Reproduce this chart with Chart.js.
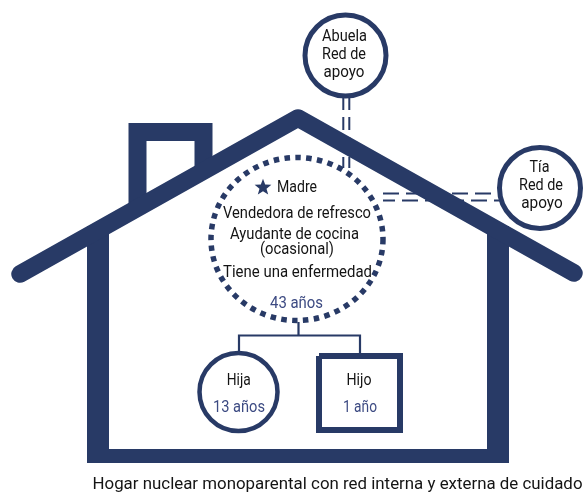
<!DOCTYPE html>
<html><head><meta charset="utf-8">
<script src="https://cdn.jsdelivr.net/npm/chart.js@4"></script>
<style>html,body{margin:0;padding:0;background:#fff;}canvas{display:block;}</style>
</head><body>
<canvas id="c" width="584" height="493"></canvas>
<script>
// ---- content (values / labels) ----
const people = ['Madre', 'Hija', 'Hijo'];
const madreRoles = ['Vendedora de refresco', 'Ayudante de cocina', '(ocasional)', 'Tiene una enfermedad'];
const ages = ['43 años', '13 años', '1 año'];
const supportNames = ['Abuela', 'Tía'];
const supportRole = ['Red de', 'apoyo'];
const caption = 'Hogar nuclear monoparental con red interna y externa de cuidado';

// ---- layout (positions in the diagram's own coordinate space) ----
const NAVY = '#283a66', TXT = '#141414', AGE = '#3c4a82';
const roofLine = [[20,274],[298,118],[574,273]];
const chimneyLine = [[137.5,212],[137.5,132],[203.5,132],[203.5,175]];
const wallLeft = [[98,226],[98,463]];
const wallRight = [[498,226],[498,463]];
const floorLine = [[87,456],[509,456]];
const stemLine = [[298.5,322],[298.5,335.5]];
const branchLine = [[239,354],[239,335.5],[360,335.5],[360,354]];
const hijoBox = [[319,356],[400,356],[400,430],[319,430],[319,356]];
const abuelaLinks = [[[343.3,97],[343.3,168]], [[349.3,97],[349.3,168]]];
const tiaLinks = [[[383,193.5],[500,193.5]], [[383,200.5],[500,200.5]]];
const circleNodes = [
  {x:345.5, y:55.5, r:40.5, w:5},
  {x:540, y:188, r:40.5, w:5},
  {x:238.5, y:392, r:39, w:4.5}
];
const madreEllipse = {x:297, y:239, rx:86, ry:81.5, w:5.5};
const star = {x:263, y:187.5, r:8.8};

const textLayout = [
  [supportNames[0], 344.5, 40.5, 45, TXT],
  [supportRole[0], 344, 58.5, 44, TXT],
  [supportRole[1], 344, 76.5, 41, TXT],
  [supportNames[1], 539.5, 171.5, null, TXT],
  [supportRole[0], 541, 190, 44, TXT],
  [supportRole[1], 542, 208, 41.5, TXT],
  [people[0], 297, 191.5, 40, TXT],
  [madreRoles[0], 297, 218, 148, TXT],
  [madreRoles[1], 294.5, 238.5, 129, TXT],
  [madreRoles[2], 297, 253.5, 74, TXT],
  [madreRoles[3], 297.5, 277, 149, TXT],
  [ages[0], 296.5, 308, 53, AGE],
  [people[1], 238.7, 385, 24, TXT],
  [ages[1], 239, 411.5, 52, AGE],
  [people[2], 359, 385, 25, TXT],
  [ages[2], 360, 411.5, 34, AGE],
  [caption, 337.5, 489, 490, TXT, 17]
];

const pts = a => a.map(([x,y]) => ({x, y}));
function lineDs(points, width, order, extra) {
  return Object.assign({
    data: pts(points), showLine: true, borderColor: NAVY, borderWidth: width,
    pointRadius: 0, pointHoverRadius: 0, fill: false, tension: 0, clip: false,
    borderCapStyle: 'butt', borderJoinStyle: 'miter', order
  }, extra || {});
}

const datasets = [
  {
    data: circleNodes.map(c => ({x:c.x, y:c.y})), showLine: false, clip: false,
    pointRadius: ctx => circleNodes[ctx.dataIndex].r,
    pointHoverRadius: ctx => circleNodes[ctx.dataIndex].r,
    pointBorderWidth: ctx => circleNodes[ctx.dataIndex].w,
    pointBorderColor: NAVY, pointBackgroundColor: '#ffffff', order: 1
  },
  lineDs(hijoBox, 6, 2),
  lineDs(stemLine, 2.2, 3),
  lineDs(branchLine, 2.2, 3),
  lineDs(roofLine, 17.5, 4, {borderCapStyle: 'round', borderJoinStyle: 'round'}),
  lineDs(wallLeft, 22, 5),
  lineDs(wallRight, 22, 5),
  lineDs(floorLine, 14, 5),
  lineDs(chimneyLine, 18, 6),
  ...abuelaLinks.map(l => lineDs(l, 2, 7, {borderDash: [13, 7]})),
  ...tiaLinks.map((l, i) => lineDs(l, 2, 7, {borderDash: [16, 7], borderDashOffset: i ? 4 : 0}))
];

const drawPlugin = {
  id: 'diagram',
  afterDatasetsDraw(chart) {
    const ctx = chart.ctx, X = chart.scales.x, Y = chart.scales.y;
    const px = v => X.getPixelForValue(v), py = v => Y.getPixelForValue(v);
    // dotted ellipse (Madre)
    ctx.save();
    ctx.strokeStyle = NAVY; ctx.lineWidth = madreEllipse.w;
    ctx.setLineDash([5.5, 5.4]); ctx.lineCap = 'butt';
    ctx.beginPath();
    ctx.ellipse(px(madreEllipse.x), py(madreEllipse.y),
      Math.abs(px(madreEllipse.rx) - px(0)), Math.abs(py(madreEllipse.ry) - py(0)), 0, 0, Math.PI * 2);
    ctx.stroke();
    ctx.restore();
    // star
    ctx.save();
    ctx.fillStyle = NAVY;
    ctx.beginPath();
    const cx = px(star.x), cy = py(star.y);
    for (let i = 0; i < 10; i++) {
      const r = i % 2 ? star.r * 0.42 : star.r;
      const a = -Math.PI / 2 + i * Math.PI / 5;
      const x = cx + r * Math.cos(a), y = cy + r * Math.sin(a);
      i ? ctx.lineTo(x, y) : ctx.moveTo(x, y);
    }
    ctx.closePath(); ctx.fill();
    ctx.restore();
    // texts
    textLayout.forEach(([s, x, y, w, color, size]) => {
      ctx.save();
      ctx.font = (size || 17) + 'px Roboto';
      const m = ctx.measureText(s).width;
      const sx = w ? w / m : 0.84;
      ctx.translate(px(x), py(y));
      ctx.scale(sx, 1);
      ctx.fillStyle = color;
      ctx.textAlign = 'center';
      ctx.textBaseline = 'alphabetic';
      ctx.fillText(s, 0, 0);
      ctx.restore();
    });
  }
};

new Chart(document.getElementById('c'), {
  type: 'scatter',
  data: { datasets },
  options: {
    responsive: false, animation: false, devicePixelRatio: 1, events: [],
    layout: { padding: 0, autoPadding: false },
    plugins: { legend: { display: false }, tooltip: { enabled: false } },
    scales: {
      x: { type: 'linear', min: 0, max: 584, display: false },
      y: { type: 'linear', min: 0, max: 493, reverse: true, display: false }
    }
  },
  plugins: [drawPlugin]
});
</script>
</body></html>
